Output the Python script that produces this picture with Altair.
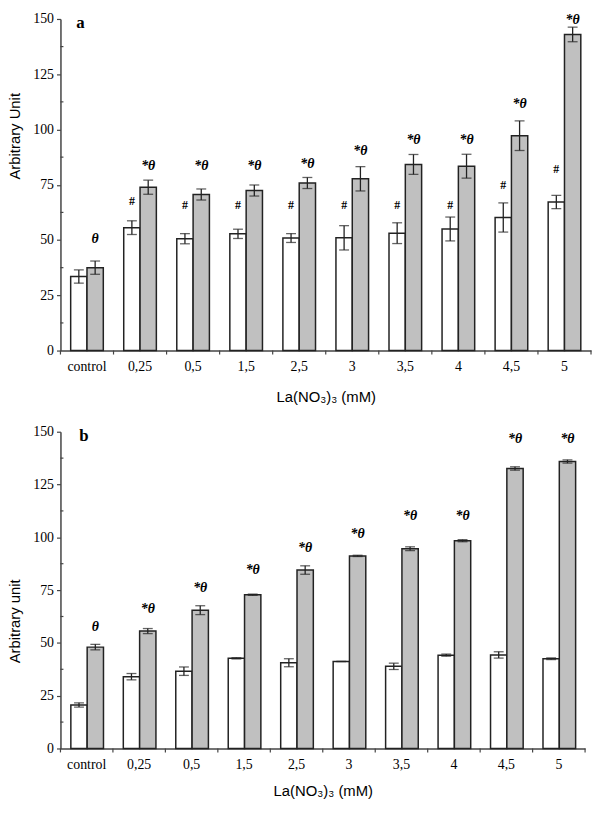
import altair as alt
import pandas as pd

cats = ["control", "0,25", "0,5", "1,5", "2,5", "3", "3,5", "4", "4,5", "5"]

# Panel a
a_white = [33.5, 55.6, 50.6, 52.8, 50.9, 51.0, 53.1, 55.0, 60.2, 67.2]
a_white_err = [3.0, 3.1, 2.3, 2.1, 2.0, 5.5, 4.7, 5.4, 6.6, 3.0]
a_gray = [37.5, 73.9, 70.6, 72.4, 75.8, 77.7, 84.2, 83.4, 97.2, 143.0]
a_gray_err = [3.0, 3.2, 2.5, 2.5, 2.5, 5.5, 4.5, 5.4, 6.7, 3.3]
a_ann_y = [50.3, 83.5, 83.3, 83.3, 84.6, 90.2, 95.4, 95.4, 111.7, 149.5]
a_hash_y = [None, 67.6, 66.0, 66.0, 66.0, 66.0, 66.0, 66.0, 74.8, 82.3]

# Panel b
b_white = [20.6, 34.0, 36.6, 42.7, 40.6, 41.2, 38.9, 44.2, 44.3, 42.5]
b_white_err = [1.0, 1.5, 2.0, 0.3, 1.9, 0.0, 1.5, 0.5, 1.5, 0.4]
b_gray = [48.0, 55.6, 65.5, 72.8, 84.5, 91.2, 94.6, 98.4, 132.6, 135.9]
b_gray_err = [1.3, 1.2, 2.1, 0.3, 2.0, 0.3, 0.9, 0.5, 0.8, 0.8]
b_ann_y = [57.6, 66.2, 75.9, 84.4, 94.7, 101.4, 110.2, 110.2, 146.7, 146.7]

y_major = [0, 25, 50, 75, 100, 125, 150]
y_minor = [12.5, 37.5, 62.5, 87.5, 112.5, 137.5]

INK = "#222222"
AX = "#444444"


def panel(white, werr, gray, gerr, ann_y, hash_y, letter, ytitle, title_y,
          width, height, pinner, letter_x, xtitle_pad):
    rows = []
    for i, c in enumerate(cats):
        rows.append(dict(cat=c, s="w", v=white[i], lo=white[i] - werr[i], hi=white[i] + werr[i]))
        rows.append(dict(cat=c, s="g", v=gray[i], lo=gray[i] - gerr[i], hi=gray[i] + gerr[i]))
    df = pd.DataFrame(rows)
    caps = pd.concat([
        df[["cat", "s"]].assign(cv=df["lo"]),
        df[["cat", "s"]].assign(cv=df["hi"]),
    ])
    ann = pd.DataFrame({"cat": cats, "s": "g", "y": ann_y,
                        "t": ["θ"] + ["*θ"] * (len(cats) - 1)})
    step = width / len(cats)

    xs = alt.Scale(domain=cats, paddingInner=pinner, paddingOuter=pinner / 2)
    osc = alt.Scale(domain=["w", "g"], paddingInner=0, paddingOuter=0)
    ys = alt.Scale(domain=[0, 150], nice=False)
    XO = alt.XOffset("s:N", scale=osc)

    xaxis = alt.Axis(title="La(NO₃)₃ (mM)", labelAngle=0, ticks=False,
                     domainColor=AX, domainWidth=1.5, labelFont="Liberation Serif",
                     labelFontSize=14, labelColor="black", labelPadding=9,
                     titleFont="Liberation Sans", titleFontSize=15,
                     titleFontWeight="normal", titleColor="black", titlePadding=xtitle_pad)
    yaxis = alt.Axis(title=ytitle, values=y_major, grid=False, tickSize=4,
                     tickColor=AX, tickWidth=1.2, domainColor=AX, domainWidth=1.5,
                     labelFont="Liberation Serif", labelFontSize=14, labelColor="black",
                     labelPadding=3, titleFont="Liberation Sans", titleFontSize=15,
                     titleFontWeight="normal", titleColor="black",
                     titleX=-38, titleY=title_y)

    def X():
        return alt.X("cat:N", scale=xs, sort=cats, axis=xaxis)

    def Y(field):
        return alt.Y(field, scale=ys, axis=yaxis)

    bars = alt.Chart(df).mark_bar(stroke=INK, strokeWidth=1.5).encode(
        x=X(), xOffset=XO, y=Y("v:Q"),
        color=alt.Color("s:N", scale=alt.Scale(domain=["w", "g"], range=["#ffffff", "#c0c0c0"]), legend=None),
    )
    err = alt.Chart(df).mark_rule(color=INK, strokeWidth=1.3).encode(
        x=X(), xOffset=XO, y=Y("lo:Q"), y2="hi:Q",
    )
    capm = alt.Chart(caps).mark_tick(color=INK, size=10, thickness=1.3).encode(
        x=X(), xOffset=XO, y=Y("cv:Q"),
    )
    anns = alt.Chart(ann).mark_text(font="Liberation Serif", fontStyle="italic",
                                    fontWeight="bold", fontSize=14, baseline="middle",
                                    color="black").encode(
        x=X(), xOffset=XO, y=Y("y:Q"), text="t:N",
    )
    layers = [bars, err, capm, anns]
    if hash_y is not None:
        hdf = pd.DataFrame({"cat": cats, "s": "w", "y": hash_y, "t": "#"}).dropna()
        hs = alt.Chart(hdf).mark_text(font="Liberation Serif", fontSize=12, fontWeight="bold",
                                      baseline="middle", color="black").encode(
            x=X(), xOffset=XO, y=Y("y:Q"), text="t:N",
        )
        layers.append(hs)

    # x tick marks at category boundaries
    tdf = pd.DataFrame({"cat": cats})
    xt = alt.Chart(tdf).mark_rule(color=AX, strokeWidth=1.2, xOffset=-step / 2).encode(
        x=X(), y=alt.value(height), y2=alt.value(height + 4))
    xt_end = alt.Chart(pd.DataFrame({"cat": [cats[-1]]})).mark_rule(
        color=AX, strokeWidth=1.2, xOffset=step / 2).encode(
        x=X(), y=alt.value(height), y2=alt.value(height + 4))
    mdf = pd.DataFrame({"m": y_minor})
    minor = alt.Chart(mdf).mark_rule(color=AX, strokeWidth=1.2).encode(
        y=Y("m:Q"), x=alt.value(0), x2=alt.value(3))
    lab = alt.Chart(pd.DataFrame({"t": [letter]})).mark_text(
        font="Liberation Serif", fontWeight="bold", fontSize=17, align="left",
        baseline="middle", color="black").encode(
        x=alt.value(letter_x), y=alt.value(4), text="t:N")
    layers += [xt, xt_end, minor, lab]
    return alt.layer(*layers).properties(width=width, height=height)


pa = panel(a_white, a_white_err, a_gray, a_gray_err, a_ann_y, a_hash_y, "a",
           "Arbitrary Unit", 118, 536, 335, 0.385, 16, 16)
pb = panel(b_white, b_white_err, b_gray, b_gray_err, b_ann_y, None, "b",
           "Arbitrary unit", 191, 530, 320, 0.396, 19, 13)

chart = alt.vconcat(pa, pb, spacing=21, padding={"left": 0, "top": 0, "right": 0, "bottom": 0}).configure_view(stroke=None)

chart.save("out.html", embed_options={"renderer": "svg", "actions": False})
